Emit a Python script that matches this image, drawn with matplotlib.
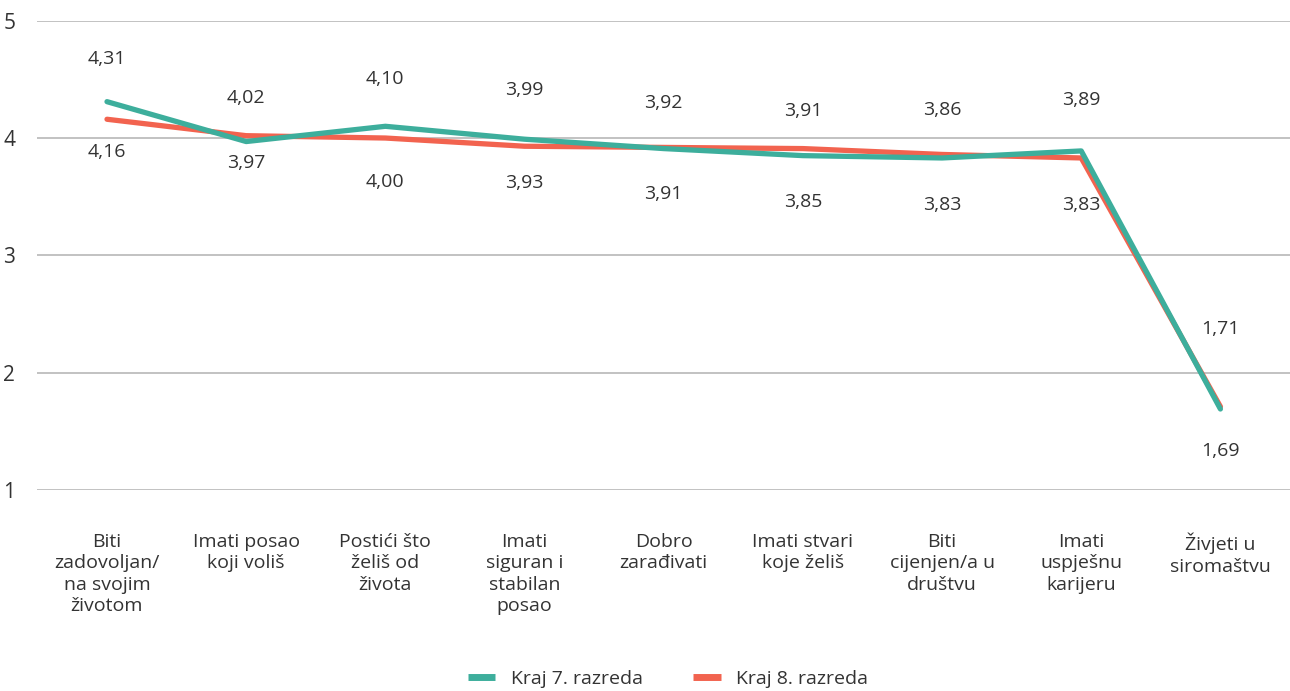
import matplotlib
matplotlib.use('agg')
import matplotlib.pyplot as plt
import numpy as np

# podaci
kategorije = ["Biti\nzadovoljan/\nna svojim\nživotom", "Imati posao\nkoji voliš",
              "Postići što\nželiš od\nživota", "Imati\nsiguran i\nstabilan\nposao",
              "Dobro\nzarađivati", "Imati stvari\nkoje želiš", "Biti\ncijenjen/a u\ndruštvu",
              "Imati\nuspješnu\nkarijeru", "Živjeti u\nsiromaštvu"]
kraj7 = [4.31, 3.97, 4.10, 3.99, 3.91, 3.85, 3.83, 3.89, 1.69]
kraj8 = [4.16, 4.02, 4.00, 3.93, 3.92, 3.91, 3.86, 3.83, 1.71]

# pomaci oznaka (px) iznad / ispod linija
pomak_gore = [43, 38, 47, 49, 44, 38, 44, 51, 78]
pomak_dolje = [33, 21, 44, 37, 45, 46, 47, 47, 42]

plt.rcParams['font.family'] = ['Open Sans', 'DejaVu Sans']
TEAL = '#3DAE9C'
CRVENA = '#F2634F'
TXT = '#333333'

fig = plt.figure(figsize=(12.9, 6.91), dpi=100)
ax = fig.add_axes([0.029, 0.291, 0.971, 0.679])

x = np.arange(len(kategorije))
ax.plot(x, kraj8, color=CRVENA, lw=3.8, solid_capstyle='round', label='Kraj 8. razreda', zorder=3)
ax.plot(x, kraj7, color=TEAL, lw=3.8, solid_capstyle='round', label='Kraj 7. razreda', zorder=4)

fmt = lambda v: f"{v:.2f}".replace('.', ',')
for i in range(len(x)):
    hi = max(kraj7[i], kraj8[i])
    lo = min(kraj7[i], kraj8[i])
    ax.annotate(fmt(hi), (x[i], hi), xytext=(0, pomak_gore[i] * 0.72), textcoords='offset points',
                ha='center', va='center', fontsize=14, color=TXT)
    ax.annotate(fmt(lo), (x[i], lo), xytext=(0, -pomak_dolje[i] * 0.72), textcoords='offset points',
                ha='center', va='center', fontsize=14, color=TXT)

ax.set_xlim(-0.5, len(x) - 0.5)
ax.set_ylim(1, 5)
ax.set_yticks([1, 2, 3, 4, 5])
ax.grid(axis='y', color='#B8B8B8', lw=1.2)
ax.set_axisbelow(True)
for s in ax.spines.values():
    s.set_visible(False)
ax.set_xticks(x)
ax.set_xticklabels(kategorije, fontsize=14, color=TXT, linespacing=1.25, va='top')
ax.tick_params(axis='x', length=0, pad=31)
ax.tick_params(axis='y', length=0, pad=16, labelsize=15, labelcolor=TXT)

h, l = ax.get_legend_handles_labels()
leg = fig.legend(h[::-1], l[::-1], loc='center', bbox_to_anchor=(0.518, 0.017), ncol=2, frameon=False,
                 fontsize=14, labelcolor=TXT, handlelength=1.4, handletextpad=0.8, columnspacing=2.6)
for ln in leg.get_lines():
    ln.set_solid_capstyle('butt')
    ln.set_linewidth(5)

fig.savefig('out.png', dpi=100)
